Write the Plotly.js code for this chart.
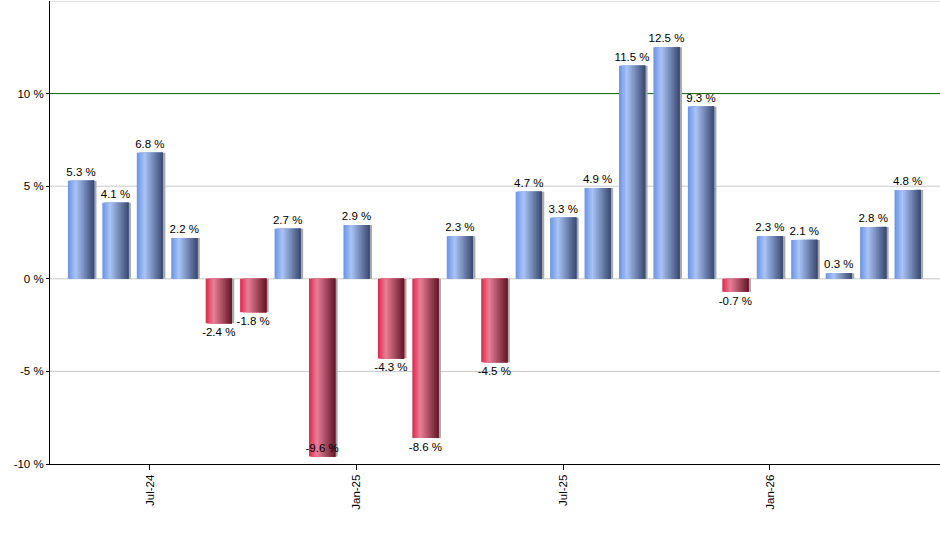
<!DOCTYPE html>
<html>
<head>
<meta charset="utf-8">
<script src="https://cdn.plot.ly/plotly-3.0.1.min.js"></script>
<style>
  html, body { margin: 0; padding: 0; background: #fff; }
  #chart { width: 940px; height: 550px; }
</style>
</head>
<body>
<div id="chart"></div>
<script>
// Monthly returns, May-24 .. May-26
const months = [
    'May-24', 'Jun-24', 'Jul-24', 'Aug-24', 'Sep-24', 'Oct-24', 'Nov-24', 'Dec-24',
    'Jan-25', 'Feb-25', 'Mar-25', 'Apr-25', 'May-25', 'Jun-25', 'Jul-25', 'Aug-25',
    'Sep-25', 'Oct-25', 'Nov-25', 'Dec-25', 'Jan-26', 'Feb-26', 'Mar-26', 'Apr-26', 'May-26'
];
const returns = [
    5.3, 4.1, 6.8, 2.2, -2.4, -1.8, 2.7, -9.6,
    2.9, -4.3, -8.6, 2.3, -4.5, 4.7, 3.3, 4.9,
    11.5, 12.5, 9.3, -0.7, 2.3, 2.1, 0.3, 2.8, 4.8
];
const tickLabels = ['Jul-24', 'Jan-25', 'Jul-25', 'Jan-26'];
const yTicks = [-10, -5, 0, 5, 10];
const gridValues = [-5, 0, 5, 15];

// ---------------------------------------------------------------------------
// Cylinder-like shading: a bar is drawn as a row of overlaid slices,
// each one running to the right edge so no gaps can appear
// ---------------------------------------------------------------------------
const BAR_W = 0.76;
const SLICES = 18;
const FONT = 'Liberation Sans, Arial, sans-serif';

const BLUE_STOPS = [[0, [104, 146, 230]], [0.3, [170, 196, 245]], [1, [56, 72, 112]]];
const RED_STOPS = [[0, [222, 38, 74]], [0.3, [232, 128, 152]], [1, [100, 22, 38]]];

function shade(stops, t) {
    for (let i = 1; i < stops.length; i++) {
        if (t <= stops[i][0]) {
            const [t0, c0] = stops[i - 1];
            const [t1, c1] = stops[i];
            const k = (t - t0) / (t1 - t0);
            const c = c0.map((v, j) => Math.round(v + (c1[j] - v) * k));
            return `rgb(${c.join(',')})`;
        }
    }
    return `rgb(${stops[stops.length - 1][1].join(',')})`;
}

const traces = [];

// soft shadow on the right side
traces.push({
    type: 'bar',
    x: months,
    y: returns,
    width: BAR_W,
    offset: -BAR_W / 2 + 0.07,
    marker: { color: '#a8a8a8', opacity: 1, line: { width: 0 } },
    hoverinfo: 'skip',
    showlegend: false
});

const sliceW = BAR_W / SLICES;
for (let i = 0; i < SLICES; i++) {
    const t = (i + 0.5) / SLICES;
    traces.push({
        type: 'bar',
        x: months,
        y: returns,
        width: BAR_W - i * sliceW,
        offset: -BAR_W / 2 + i * sliceW,
        marker: {
            color: returns.map(v => v >= 0 ? shade(BLUE_STOPS, t) : shade(RED_STOPS, t)),
            opacity: 1,
            line: { width: 0 }
        },
        hoverinfo: 'skip',
        showlegend: false
    });
}

// value labels
const yMin = -10, yMax = 15;
traces.push({
    type: 'bar',
    x: months,
    y: returns,
    width: BAR_W,
    offset: -BAR_W / 2,
    marker: { color: 'rgba(0,0,0,0)', line: { width: 0 } },
    text: returns.map(v => v.toFixed(1) + ' %'),
    textposition: returns.map(v => v - 0.9 < yMin ? 'inside' : 'outside'),
    insidetextanchor: 'end',
    textangle: 0,
    constraintext: 'none',
    textfont: { family: FONT, size: 11.5, color: '#000' },
    insidetextfont: { family: FONT, size: 11.5, color: '#000' },
    outsidetextfont: { family: FONT, size: 11.5, color: '#000' },
    cliponaxis: false,
    hovertemplate: '%{x}: %{y:.1f} %<extra></extra>',
    showlegend: false
});

const shapes = gridValues.map(v => ({
    type: 'line', xref: 'paper', yref: 'y', x0: 0, x1: 1, y0: v, y1: v,
    line: { color: '#c8c8c8', width: 1 }, layer: 'below'
}));
// 10 % reference line
shapes.push({
    type: 'line', xref: 'paper', yref: 'y', x0: 0, x1: 1, y0: 10, y1: 10,
    line: { color: '#006400', width: 1 }, layer: 'below'
});

Plotly.newPlot('chart', traces, {
    width: 940,
    height: 550,
    paper_bgcolor: '#fff',
    plot_bgcolor: '#fff',
    font: { family: FONT, size: 11, color: '#000' },
    margin: { l: 50, r: 0, t: 1, b: 86 },
    barmode: 'overlay',
    showlegend: false,
    xaxis: {
        type: 'category',
        range: [-0.9, months.length - 1 + 0.94],
        tickmode: 'array',
        tickvals: tickLabels,
        ticktext: tickLabels,
        tickangle: -90,
        ticks: 'outside',
        ticklen: 5,
        tickcolor: '#000',
        showgrid: false,
        showline: true,
        linecolor: '#000',
        linewidth: 1,
        zeroline: false,
        tickfont: { family: FONT, size: 11.5, color: '#000' }
    },
    yaxis: {
        range: [yMin, yMax],
        tickmode: 'array',
        tickvals: yTicks,
        ticktext: yTicks.map(v => v + ' %'),
        ticks: 'outside',
        ticklen: 3,
        tickcolor: '#000',
        showgrid: false,
        showline: true,
        linecolor: '#000',
        linewidth: 1,
        zeroline: false,
        tickfont: { family: FONT, size: 11.5, color: '#000' }
    },
    shapes: shapes
}, { displayModeBar: false, staticPlot: true });
</script>
</body>
</html>
